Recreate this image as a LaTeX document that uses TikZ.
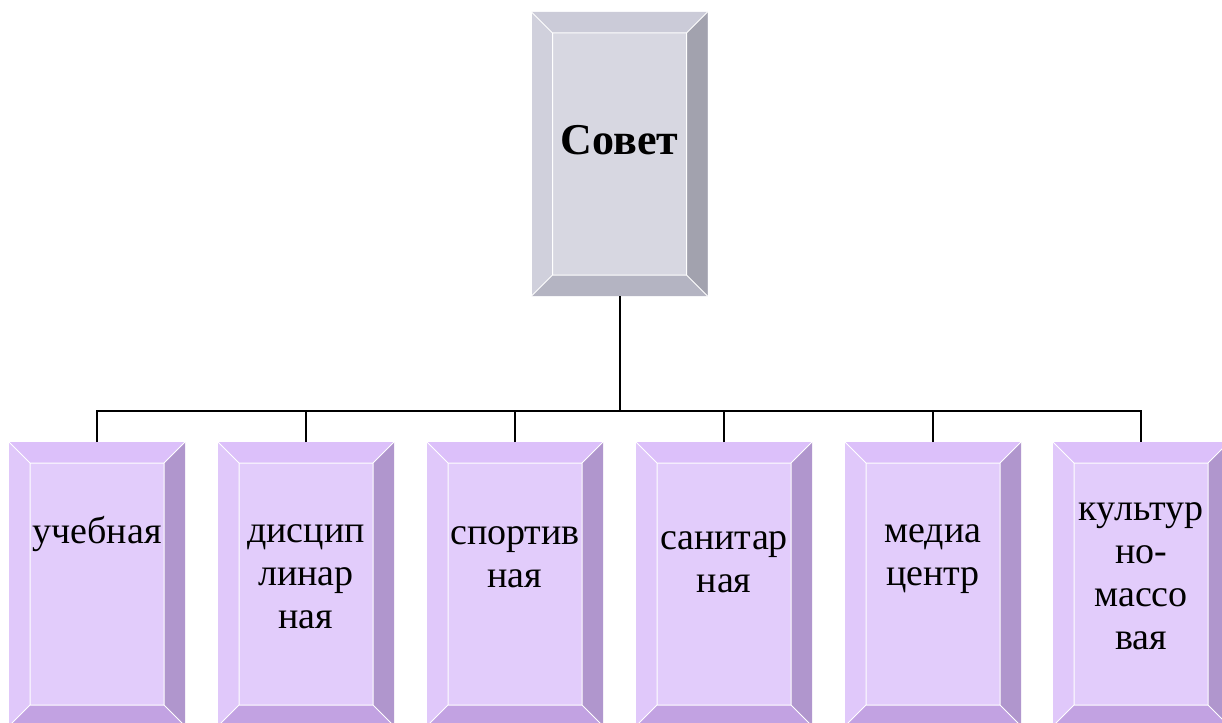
\documentclass[tikz,border=0pt]{standalone}
\usepackage{fontspec}
\setmainfont{Liberation Serif}
\usetikzlibrary{calc}
\definecolor{gTop}{RGB}{203,203,216}
\definecolor{gLeft}{RGB}{208,208,220}
\definecolor{gRight}{RGB}{162,162,174}
\definecolor{gBot}{RGB}{180,180,194}
\definecolor{gIn}{RGB}{215,215,225}
\definecolor{pTop}{RGB}{220,192,250}
\definecolor{pLeft}{RGB}{224,200,250}
\definecolor{pRight}{RGB}{176,150,205}
\definecolor{pBot}{RGB}{194,162,226}
\definecolor{pIn}{RGB}{226,204,251}
\tikzset{
  bbox/.style={minimum width=176pt, minimum height=284pt, inner sep=0pt, outer sep=0pt},
  lbl/.style={font=\fontsize{38}{43}\selectfont, align=center, anchor=base, inner sep=0pt},
  ttl/.style={font=\fontsize{44}{50}\selectfont\bfseries, anchor=base, inner sep=0pt},
  conn/.style={line width=2pt, black},
  bedge/.style={white, line width=1pt},
}
\newcommand\bevelfill[6]{%
  \coordinate (#1-inw) at ($(#1.north west)+(21,21)$);
  \coordinate (#1-ine) at ($(#1.north east)+(-21,21)$);
  \coordinate (#1-ise) at ($(#1.south east)+(-21,-21)$);
  \coordinate (#1-isw) at ($(#1.south west)+(21,-21)$);
  \fill[#3] (#1.north west) rectangle (#1.south east);
  \fill[#2] (#1.north west) -- (#1.north east) -- (#1-ine) -- (#1-inw) -- cycle;
  \fill[#4] (#1.north east) -- (#1.south east) -- (#1-ise) -- (#1-ine) -- cycle;
  \fill[#5] (#1.south west) -- (#1.south east) -- (#1-ise) -- (#1-isw) -- cycle;
  \fill[#6] (#1-inw) rectangle (#1-ise);
  \draw[bedge] (#1.north west) -- (#1-inw) (#1.north east) -- (#1-ine)
    (#1.south east) -- (#1-ise) (#1.south west) -- (#1-isw) (#1-inw) rectangle (#1-ise);
}
\begin{document}
\begin{tikzpicture}[x=1pt,y=-1pt]
\clip (0,0) rectangle (1222,722);
\fill[white] (0,0) rectangle (1222,722);
\node[bbox] (top) at (619.5,154) {};
\node[bbox] (b1) at (97,584) {};
\node[bbox] (b2) at (306,584) {};
\node[bbox] (b3) at (515,584) {};
\node[bbox] (b4) at (724,584) {};
\node[bbox] (b5) at (933,584) {};
\node[bbox] (b6) at (1141,584) {};
\bevelfill{top}{gTop}{gLeft}{gRight}{gBot}{gIn}
\foreach \b in {b1,b2,b3,b4,b5,b6} {\bevelfill{\b}{pTop}{pLeft}{pRight}{pBot}{pIn}}
\coordinate (bus) at (619.5,411);
\draw[conn] (top.south) -- (bus);
\draw[conn] (b1.north) |- (bus) -| (b6.north);
\foreach \b in {b2,b3,b4,b5} {\draw[conn] (\b.north) -- (\b.north |- bus);}
\node[ttl] (ttop) at (619.5,155) {Совет};
\node[lbl] (t1) at (97,543) {учебная};
\node[lbl] (t2) at (306,628) {дисцип\\линар\\ная};
\node[lbl] (t3) at (515,587) {спортив\\ная};
\node[lbl] (t4) at (724,592) {санитар\\ная};
\node[lbl] (t5) at (933,585) {медиа\\центр};
\node[lbl] (t6) at (1141,649) {культур\\но-\\массо\\вая};
\end{tikzpicture}
\end{document}
